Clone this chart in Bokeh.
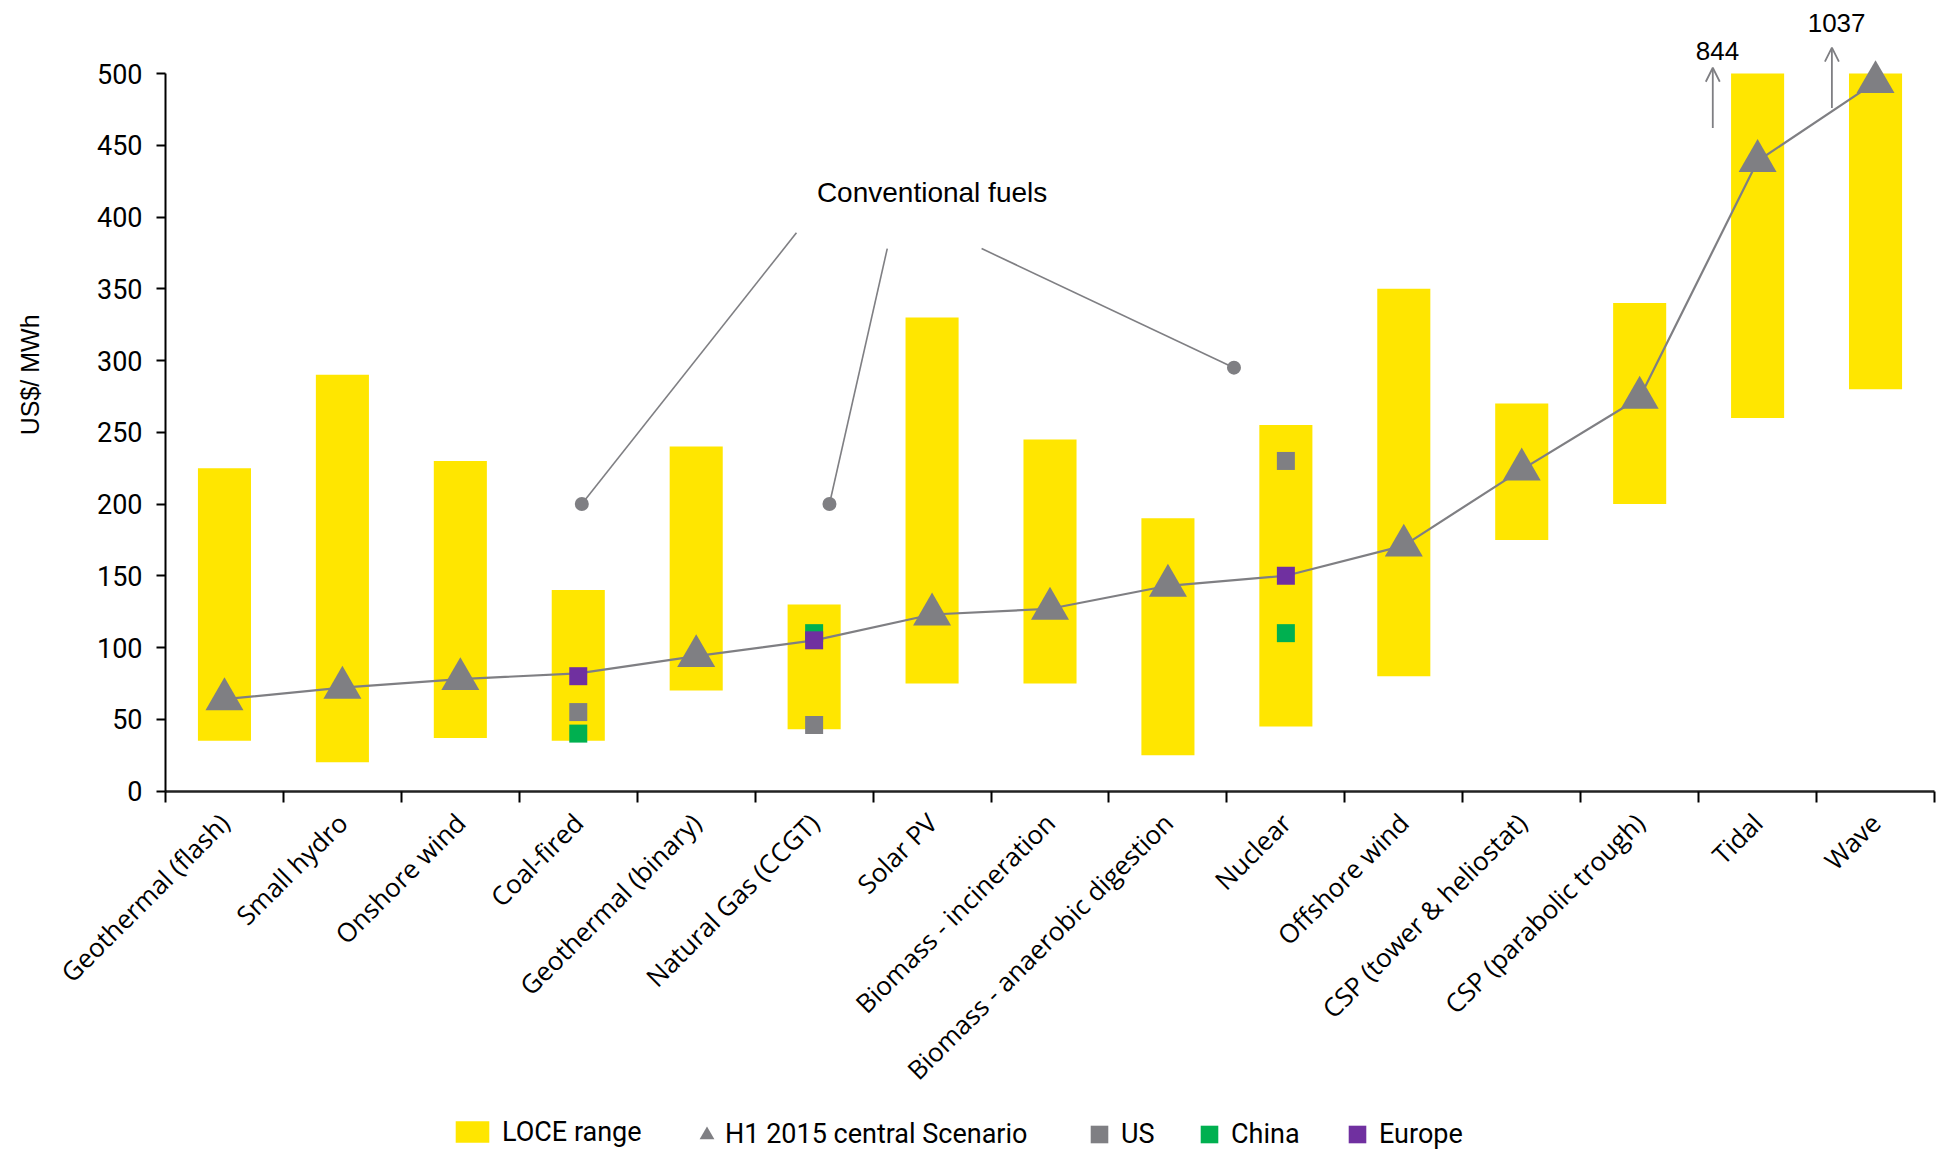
import math
from bokeh.plotting import figure
from bokeh.models import (Range1d, FixedTicker, Legend, LegendItem, Label, Arrow, OpenHead,
                          ColumnDataSource)
from bokeh.embed import file_html
from bokeh.resources import INLINE

NaN = float("nan")

categories = ["Geothermal (flash)", "Small hydro", "Onshore wind", "Coal-fired",
              "Geothermal (binary)", "Natural Gas (CCGT)", "Solar PV", "Biomass - incineration",
              "Biomass - anaerobic digestion", "Nuclear", "Offshore wind",
              "CSP (tower & heliostat)", "CSP (parabolic trough)", "Tidal", "Wave"]
loce_low = [35, 20, 37, 35, 70, 43, 75, 75, 25, 45, 80, 175, 200, 260, 280]
loce_high = [225, 290, 230, 140, 240, 130, 330, 245, 190, 255, 350, 270, 340, 500, 500]
central = [64, 72, 78, 82, 94, 105, 123, 127, 143, 150, 171, 224, 274, 439, 494]
conventional = [False, False, False, True, False, True, False, False, False, True,
                False, False, False, False, False]
us_vals = [NaN, NaN, NaN, 55, NaN, 46, NaN, NaN, NaN, 230, NaN, NaN, NaN, NaN, NaN]
china_vals = [NaN, NaN, NaN, 40, NaN, 110, NaN, NaN, NaN, 110, NaN, NaN, NaN, NaN, NaN]
europe_vals = [NaN, NaN, NaN, 80, NaN, 105, NaN, NaN, NaN, 150, NaN, NaN, NaN, NaN, NaN]
y_ticks = list(range(0, 501, 50))

# annotation data (conventional fuels call-outs, off-scale values)
callout_from_x = [5.35, 6.12, 6.92]
callout_from_y = [389, 378, 378]
callout_to_x = [3.53, 5.63, 9.06]
callout_to_y = [200, 200, 295]
callout_text = "Conventional fuels"
callout_text_pos = (6.5, 417)
offscale_labels = ["844", "1037"]
offscale_x = [13.12, 14.13]
offscale_arrow_y0 = [462, 476]
offscale_arrow_y1 = [504, 518]
offscale_label_y = [516, 535]
y_title = "US$/ MWh"
y_title_pos = (-1.15, 290)

YELLOW = "#FFE600"
GREY = "#7F7F83"
GREEN = "#00B050"
PURPLE = "#7030A0"

W, H = 1949, 1152
n = len(categories)
x_centers = [i + 0.5 for i in range(n)]

# frame covers the whole canvas; axes are pinned at x=0 / y=0
px_per_cat = (1934 - 165) / n
px_per_unit = (790.5 - 73) / 500
x_range = Range1d(-165 / px_per_cat, n + (W - 1934) / px_per_cat)
y_range = Range1d(-(H - 790.5) / px_per_unit, 790.5 / px_per_unit)

p = figure(width=W, height=H, output_backend="svg", toolbar_location=None,
           x_range=x_range, y_range=y_range, min_border=0)
p.title.visible = False
p.outline_line_color = None
p.xgrid.visible = False
p.ygrid.visible = False
p.background_fill_color = "white"
p.border_fill_color = "white"

src = ColumnDataSource(dict(x=x_centers, low=loce_low, high=loce_high, central=central,
                            us=us_vals, china=china_vals, europe=europe_vals))

bars = p.vbar(x="x", bottom="low", top="high", width=0.45, source=src,
              fill_color=YELLOW, line_color=None)

# conventional fuels call-outs
p.segment(x0=callout_from_x, y0=callout_from_y, x1=callout_to_x, y1=callout_to_y,
          line_color=GREY, line_width=1.6)
p.scatter(x=callout_to_x, y=callout_to_y, marker="circle", size=14,
          fill_color=GREY, line_color=None)
p.add_layout(Label(x=callout_text_pos[0], y=callout_text_pos[1], text=callout_text,
                   text_align="center", text_baseline="middle",
                   text_font="Liberation Sans", text_font_size="28px",
                   text_color="black"))

# central scenario line and triangles
line = p.line(x="x", y="central", source=src, line_color=GREY, line_width=2.2)
tri_x = [x for x, c in zip(x_centers, conventional) if not c]
tri_y = [v for v, c in zip(central, conventional) if not c]
tris = p.scatter(x=tri_x, y=tri_y, marker="triangle", size=38,
                 fill_color=GREY, line_color=None)

us_r = p.scatter(x="x", y="us", source=src, marker="square", size=18, fill_color=GREY, line_color=None)
ch_r = p.scatter(x="x", y="china", source=src, marker="square", size=18, fill_color=GREEN, line_color=None)
eu_r = p.scatter(x="x", y="europe", source=src, marker="square", size=18, fill_color=PURPLE, line_color=None)

# off-scale arrows
for xv, y0, y1, lab, ly in zip(offscale_x, offscale_arrow_y0, offscale_arrow_y1,
                               offscale_labels, offscale_label_y):
    p.add_layout(Arrow(end=OpenHead(size=14, line_color=GREY, line_width=1.8),
                       x_start=xv, y_start=y0, x_end=xv, y_end=y1,
                       line_color=GREY, line_width=1.8))
    p.add_layout(Label(x=xv + 0.04, y=ly, text=lab, text_align="center", text_baseline="middle",
                       text_font="Liberation Sans", text_font_size="26px",
                       text_color="black"))

# y axis
yax = p.yaxis[0]
yax.fixed_location = 0
yax.ticker = FixedTicker(ticks=y_ticks)
yax.bounds = (0, 500)
yax.axis_line_color = "black"
yax.axis_line_width = 2
yax.major_tick_line_color = "black"
yax.major_tick_line_width = 2
yax.major_tick_out = 9
yax.major_tick_in = 0
yax.minor_tick_line_color = None
yax.major_label_text_font = "Roboto"
yax.major_label_text_font_size = "27px"
yax.major_label_text_color = "black"
yax.major_label_standoff = 14

p.add_layout(Label(x=y_title_pos[0], y=y_title_pos[1], text=y_title,
                   angle=math.pi / 2, text_align="center", text_baseline="middle",
                   text_font="Liberation Sans", text_font_size="25px",
                   text_color="black"))

# x axis: labels at category centres, ticks at boundaries
xax = p.xaxis[0]
xax.fixed_location = 0
xax.bounds = (0, n)
xax.ticker = FixedTicker(ticks=x_centers, minor_ticks=list(range(n + 1)))
xax.major_label_overrides = {x: c for x, c in zip(x_centers, categories)}
xax.major_tick_line_color = None
xax.minor_tick_line_color = "black"
xax.minor_tick_line_width = 2
xax.minor_tick_out = 11
xax.minor_tick_in = 0
xax.axis_line_color = "#222222"
xax.axis_line_width = 2.5
xax.major_label_orientation = math.pi / 4
xax.major_label_text_font = "Open Sans"
xax.major_label_text_font_size = "26px"
xax.major_label_text_color = "black"
xax.major_label_standoff = 16

# legends (one per item so that each glyph box can be sized like the reference)
legend_specs = [
    ("LOCE range", bars, 451, 42, 27, 9),
    ("H1 2015 central Scenario", tris, 688, 37, 37, -6),
    ("US", us_r, 1077, 44, 44, -10),
    ("China", ch_r, 1187, 44, 44, -10),
    ("Europe", eu_r, 1335, 44, 44, -10),
]
for lab, rend, lx, gw, gh, so in legend_specs:
    lg = Legend(items=[LegendItem(label=lab, renderers=[rend])],
                location=(lx, H - (1134 + gh / 2)),
                orientation="horizontal", glyph_width=gw, glyph_height=gh,
                label_height=gh, label_standoff=so, padding=0, margin=0,
                border_line_color=None, background_fill_alpha=0,
                label_text_font="Roboto", label_text_font_size="27px",
                label_text_color="black")
    p.add_layout(lg)

open("out.html", "w").write(file_html(p, INLINE))
